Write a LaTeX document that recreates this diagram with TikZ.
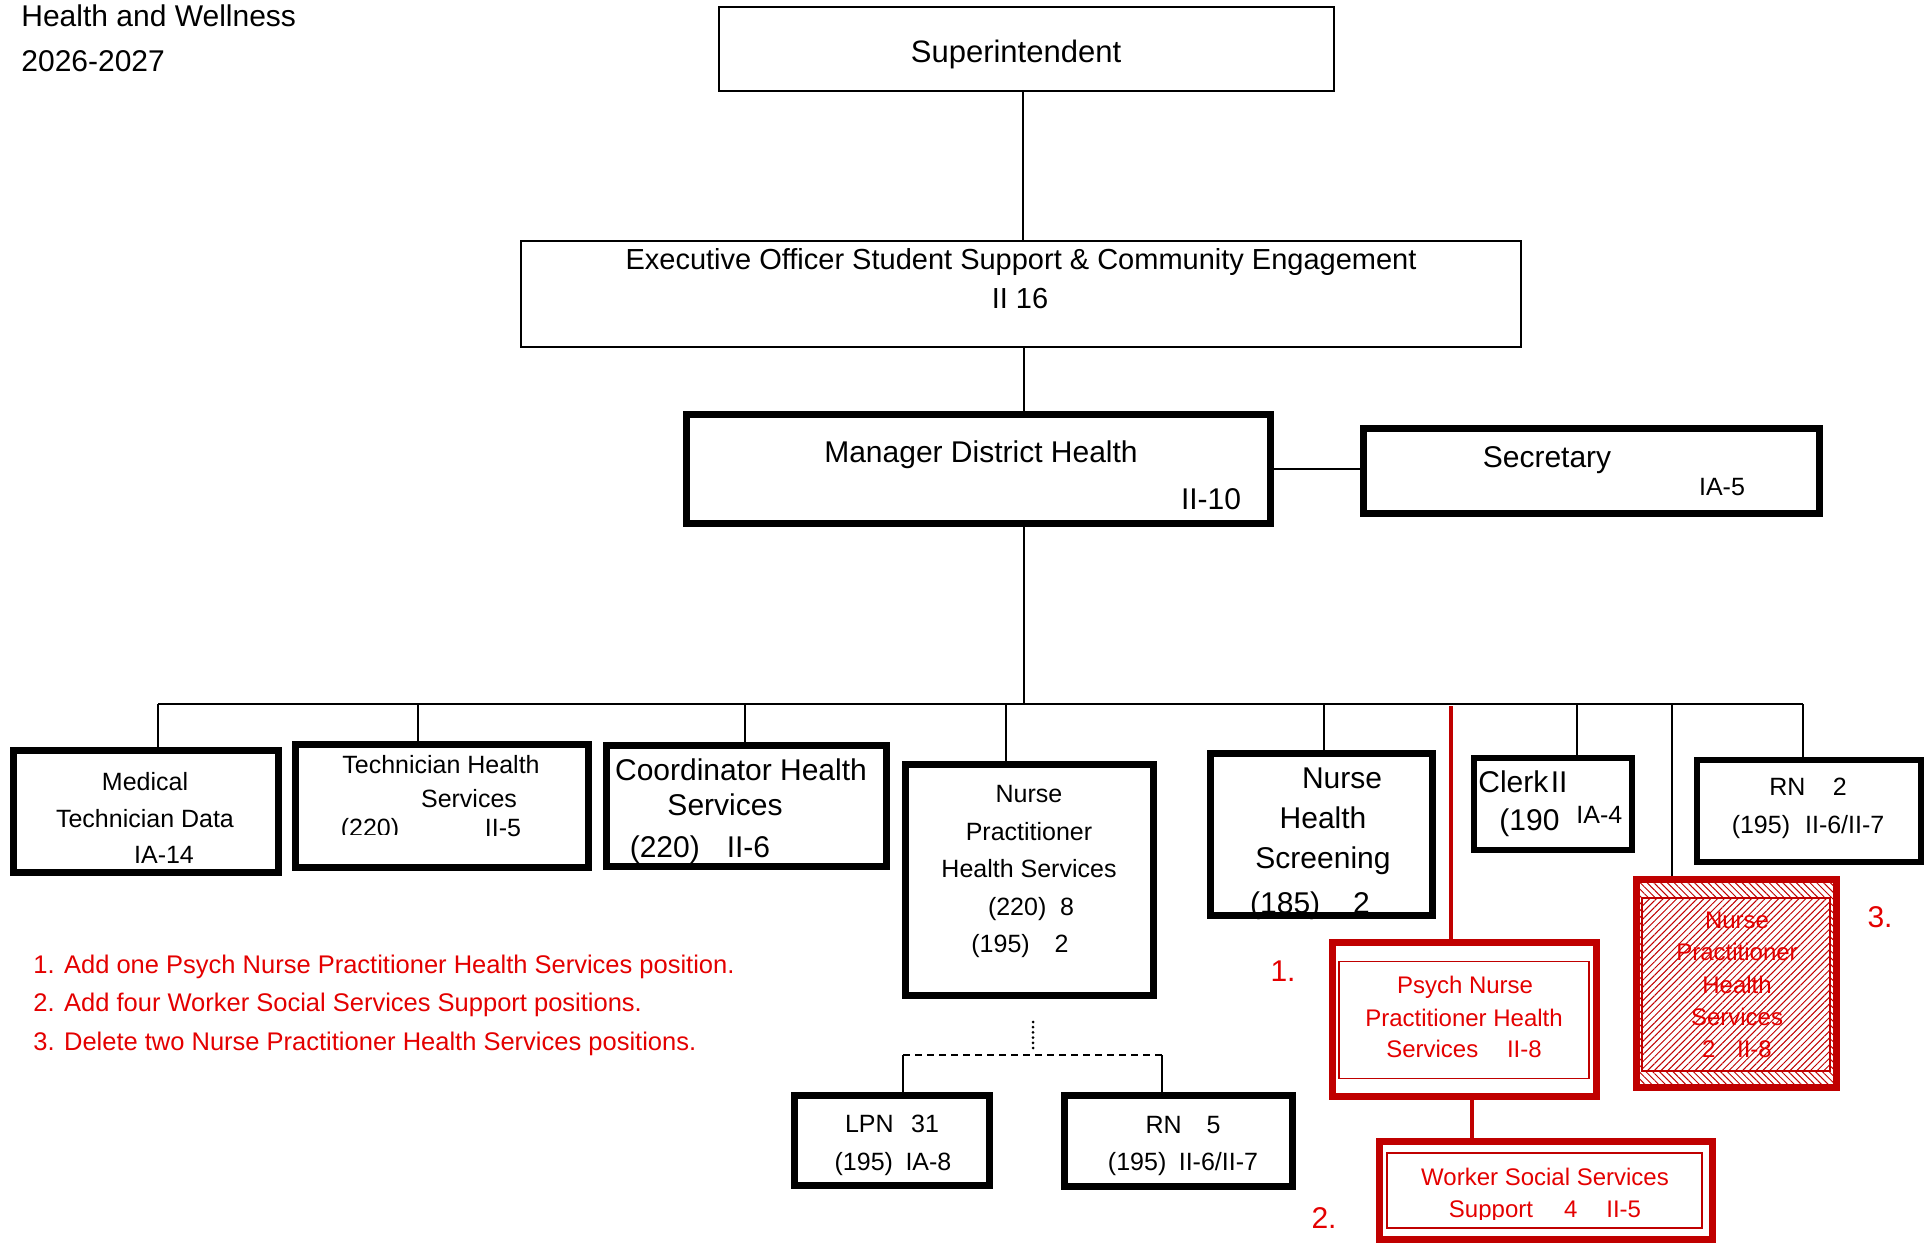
\documentclass[tikz,border=0pt]{standalone}
\usepackage{fontspec}
\setmainfont{Liberation Sans}
\usetikzlibrary{patterns,patterns.meta,calc}
\definecolor{bred}{RGB}{192,0,0}
\definecolor{tred}{RGB}{228,0,0}
\begin{document}
\begin{tikzpicture}[x=0.5pt,y=-0.5pt,
  thinbox/.style={draw=black,line width=1pt,inner sep=0pt},
  thickbox/.style={draw=black,line width=3.5pt,inner sep=0pt},
  midbox/.style={draw=black,line width=2.8pt,inner sep=0pt},
  redbox/.style={draw=bred,line width=3.5pt,inner sep=0pt},
  redinner/.style={draw=bred,line width=0.8pt,inner sep=0pt},
  conn/.style={line width=1pt},
  redconn/.style={draw=bred,line width=1.8pt},
  big/.style={font=\fontsize{15}{18}\selectfont,inner sep=0pt,anchor=base},
  small/.style={font=\fontsize{12.5}{15}\selectfont,inner sep=0pt,anchor=base},
  redtxt/.style={font=\fontsize{12}{14}\selectfont,inner sep=0pt,anchor=base,text=tred},
  note/.style={font=\fontsize{12.75}{15}\selectfont,inner sep=0pt,anchor=base west,text=tred},
  num/.style={font=\fontsize{15}{18}\selectfont,inner sep=0pt,anchor=base,text=tred},
  title/.style={font=\fontsize{15}{18}\selectfont,inner sep=0pt,anchor=base west}
]
\useasboundingbox (0,0) rectangle (1930,1245);
\fill[white] (0,0) rectangle (1930,1245);

% title
\node[title] (t1) at (21,27) {Health and Wellness};
\node[title] (t2) at (21,72) {2026-2027};

% top boxes
\node[thinbox,minimum width=307.5pt,minimum height=42pt] (sup) at (1026.5,49) {};
\node[big,font=\fontsize{15.5}{18}\selectfont] (supT) at (1016,63) {Superintendent};

\node[thinbox,minimum width=500pt,minimum height=53pt] (exec) at (1021,294) {};
\node[big,font=\fontsize{14.5}{17}\selectfont] (execT1) at (1021,270) {Executive Officer Student Support \& Community Engagement};
\node[big,font=\fontsize{14.5}{17}\selectfont] (execT2) at (1020,309) {II 16};

\node[thickbox,minimum width=292pt,minimum height=54.5pt] (mgr) at (978.5,469) {};
\node[big] (mgrT1) at (981,462) {Manager District Health};
\node[big] (mgrT2) at (1211,509) {II-10};

\node[thickbox,minimum width=228pt,minimum height=42.5pt] (sec) at (1591.5,471) {};
\node[big] (secT1) at (1547,467) {Secretary};
\node[small] (secT2) at (1722,495) {IA-5};

% connectors top
\coordinate (v1) at (1023,0);
\coordinate (v2) at (1024,0);
\draw[conn] (v1 |- sup.south) -- (v1 |- exec.north);
\draw[conn] (v2 |- exec.south) -- (v2 |- mgr.north);
\draw[conn] (mgr.east) -- (mgr.east -| sec.west);

% bus
\coordinate (busL) at (158,704);
\coordinate (busR) at (1803,704);
\coordinate (trunk) at (1024,704);
\draw[conn] (busL) -- (busR);
\draw[conn] (trunk |- mgr.south) -- (trunk);

% second row boxes
\node[thickbox,minimum width=132.5pt,minimum height=61pt] (med) at (146,811.5) {};
\node[small] (medT1) at (145,790) {Medical};
\node[small] (medT2) at (145,827) {Technician Data};
\node[small] (medT3) at (164,863) {IA-14};

\node[thickbox,minimum width=146.5pt,minimum height=61.5pt] (tech) at (442,806) {};
\node[small] (techT1) at (441,773) {Technician Health};
\node[small] (techT2) at (469,807) {Services};
\begin{scope}
\clip (300,700) rectangle (590,834.5);
\node[small] (techT3) at (370,836) {(220)};
\end{scope}
\node[small] (techT4) at (503,836) {II-5};

\node[thickbox,minimum width=140pt,minimum height=60.5pt] (coord) at (746.5,806) {};
\node[big] (coordT1) at (741,780) {Coordinator Health};
\node[big] (coordT2) at (725,815) {Services};
\node[big] (coordT3) at (700,857) {(220)\hspace{0.9em}II-6};

\node[thickbox,minimum width=124pt,minimum height=115.5pt] (np) at (1029.5,880) {};
\node[small] (npT1) at (1029,802) {Nurse};
\node[small] (npT2) at (1029,840) {Practitioner};
\node[small] (npT3) at (1029,877) {Health Services};
\node[small] (npT4) at (1031,915) {(220)\hspace{0.55em}8};
\node[small] (npT5) at (1020,952) {(195)\hspace{1em}2};

\node[thickbox,minimum width=111pt,minimum height=81pt] (nhs) at (1321.5,834.5) {};
\node[big] (nhsT1) at (1342,788) {Nurse};
\node[big] (nhsT2) at (1323,828) {Health};
\node[big] (nhsT3) at (1323,868) {Screening};
\node[big] (nhsT4) at (1310,913) {(185)\hspace{1.1em}2};

\node[midbox,minimum width=79pt,minimum height=46pt] (clerk) at (1553,804) {};
\node[big,anchor=base west] (clerkT1) at (1478,792) {Clerk\hspace{0.08em}II};
\node[big,anchor=base west] (clerkT2) at (1499,830) {(190};
\node[small,anchor=base west] (clerkT3) at (1576,823) {IA-4};

\node[midbox,minimum width=112pt,minimum height=51pt] (rn2) at (1809,811) {};
\node[small] (rn2T1) at (1808,795) {RN\hspace{1.1em}2};
\node[small] (rn2T2) at (1808,833) {(195)\hspace{0.6em}II-6/II-7};

% drops from bus
\coordinate (d2) at (418,704);
\coordinate (d3) at (745,704);
\coordinate (d4) at (1006,704);
\coordinate (d5) at (1324,704);
\coordinate (d6) at (1577,704);
\coordinate (d7) at (1672,704);
\draw[conn] (busL) -- (busL |- med.north);
\draw[conn] (d2) -- (d2 |- tech.north);
\draw[conn] (d3) -- (d3 |- coord.north);
\draw[conn] (d4) -- (d4 |- np.north);
\draw[conn] (d5) -- (d5 |- nhs.north);
\draw[conn] (d6) -- (d6 |- clerk.north);
\draw[conn] (busR) -- (busR |- rn2.north);

% hatched (deleted) box
\node[redbox,minimum width=100pt,minimum height=104pt] (hat) at (1736.5,983.5) {};
\fill[pattern={Lines[angle=-45,distance=2.4pt,line width=0.5pt]},pattern color=bred] (1640,883) rectangle (1833,1084);
\node[draw=bred,line width=0.6pt,inner sep=0pt,minimum width=94pt,minimum height=86.5pt,
  preaction={fill=white},pattern={Lines[angle=45,distance=2.4pt,line width=0.5pt]},pattern color=bred] (hatIn) at (1736,984.5) {};
\draw[conn] (d7) -- (d7 |- hat.north);
\node[redtxt] (hatT1) at (1737,928) {Nurse};
\node[redtxt] (hatT2) at (1737,960) {Practitioner};
\node[redtxt] (hatT3) at (1737,993) {Health};
\node[redtxt] (hatT4) at (1737,1025) {Services};
\node[redtxt] (hatT5) at (1737,1057) {2\hspace{0.9em}II-8};
\node[num] (n3) at (1880,927) {3.};

% psych nurse (added)
\node[redbox,minimum width=132pt,minimum height=77pt] (psych) at (1464.5,1019) {};
\node[redinner,minimum width=125pt,minimum height=58.5pt] (psychIn) at (1464,1020) {};
\node[redtxt] (psT1) at (1465,993) {Psych Nurse};
\node[redtxt] (psT2) at (1464,1026) {Practitioner Health};
\node[redtxt] (psT3) at (1464,1057) {Services\hspace{1.2em}II-8};
\node[num] (n1) at (1283,981) {1.};
\coordinate (r1) at (1451,706);
\draw[redconn] (r1) -- (r1 |- psych.north);

% worker social services (added)
\node[redbox,minimum width=166.5pt,minimum height=49pt] (worker) at (1546,1190) {};
\node[redinner,minimum width=157.5pt,minimum height=37.5pt] (workerIn) at (1544.5,1190.5) {};
\node[redtxt] (wkT1) at (1545,1185) {Worker Social Services};
\begin{scope}
\clip (1390,1190) rectangle (1700,1219);
\node[redtxt] (wkT2) at (1545,1217) {Support\hspace{1.3em}4\hspace{1.2em}II-5};
\end{scope}
\node[num] (n2) at (1324,1228) {2.};
\coordinate (pw) at (1472,1000);
\draw[redconn] (pw |- psych.south) -- (pw |- worker.north);

% notes
\node[note] (note1) at (33,973) {1. Add one Psych Nurse Practitioner Health Services position.};
\node[note] (note2) at (33,1011) {2. Add four Worker Social Services Support positions.};
\node[note] (note3) at (33,1050) {3. Delete two Nurse Practitioner Health Services positions.};

% LPN / RN under NP
\node[thickbox,minimum width=97.5pt,minimum height=45pt] (lpn) at (892,1140.5) {};
\node[small] (lpnT1) at (892,1132) {LPN\hspace{0.7em}31};
\node[small] (lpnT2) at (893,1170) {(195)\hspace{0.5em}IA-8};
\node[thickbox,minimum width=114pt,minimum height=45.5pt] (rn5) at (1178.5,1141) {};
\node[small] (rn5T1) at (1183,1133) {RN\hspace{1em}5};
\node[small] (rn5T2) at (1183,1170) {(195)\hspace{0.5em}II-6/II-7};

\coordinate (dotA) at (1033,1022);
\coordinate (dotB) at (1033,1050);
\coordinate (dashL) at (903,1055);
\coordinate (dashR) at (1162,1055);
\draw[line width=1.5pt,line cap=round,dash pattern=on 0pt off 2.6pt] (dotA) -- (dotB);
\draw[line width=1pt,dash pattern=on 3.5pt off 2.5pt] (dashL) -- (dashR);
\draw[conn] (dashL) -- (dashL |- lpn.north);
\draw[conn] (dashR) -- (dashR |- rn5.north);
\end{tikzpicture}
\end{document}
